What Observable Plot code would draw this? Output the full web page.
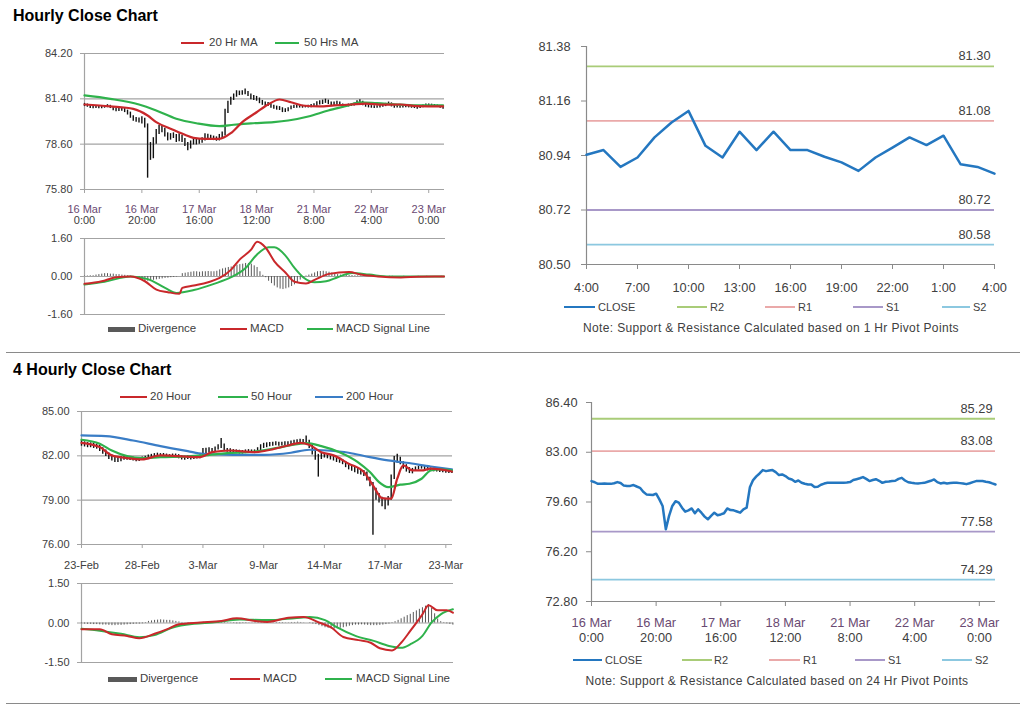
<!DOCTYPE html>
<html><head><meta charset="utf-8">
<script src="https://cdn.jsdelivr.net/npm/d3@7"></script>
<script src="https://cdn.jsdelivr.net/npm/@observablehq/plot@0.6"></script>
<style>
body{margin:0;background:#fff;font-family:"Liberation Sans",Arial,sans-serif;}
#root{position:relative;width:1024px;height:706px;overflow:hidden;background:#fff;}
</style></head><body><div id="root"></div>
<script>
// ---------------- DATA ----------------
// Hourly bars, 16 Mar 0:00 onwards (index = hour bar)
const hourClose = [81.03,80.95,80.84,80.84,80.86,80.84,80.84,80.88,80.96,80.90,80.72,80.69,80.70,80.76,80.66,80.57,80.30,80.12,80.10,80.08,
80.17,79.78,79.33,77.74,78.65,79.33,79.65,79.56,79.21,78.94,79.03,79.16,78.83,79.10,78.87,78.60,78.42,78.65,78.87,78.69,
78.75,78.83,79.16,79.05,79.03,78.95,78.87,79.10,79.21,80.60,81.10,81.35,81.55,81.78,81.71,81.75,81.78,81.64,81.44,81.48,
81.37,81.21,81.14,80.98,81.07,80.92,80.85,80.80,80.80,80.62,80.64,80.78,80.86,80.91,80.91,80.91,80.91,80.91,80.91,80.93,
80.96,81.10,81.16,81.22,81.30,81.18,81.03,81.10,81.16,81.05,80.91,80.98,81.00,81.03,81.05,81.18,81.25,81.07,80.95,80.91,
80.88,80.87,80.89,80.91,80.98,81.05,81.14,80.96,80.87,80.92,80.87,80.90,80.91,80.91,80.89,80.87,80.82,80.88,80.96,81.03,
81.03,81.03,80.98,80.95,80.87,80.80];
const hourHigh = [81.12,81.08,80.98,80.94,80.96,80.95,80.93,80.98,81.04,81.00,80.92,80.80,80.82,80.85,80.80,80.70,80.58,80.35,80.25,80.22,
80.30,80.20,79.85,78.70,79.00,79.50,79.75,79.70,79.58,79.30,79.25,79.30,79.20,79.25,79.15,78.95,78.70,78.80,78.95,78.92,
78.95,79.00,79.25,79.22,79.15,79.10,79.05,79.20,79.35,80.75,81.25,81.50,81.70,81.90,81.88,81.90,82.00,81.85,81.70,81.60,
81.55,81.45,81.30,81.20,81.18,81.10,81.00,80.95,80.92,80.85,80.78,80.85,80.95,81.00,81.00,80.98,81.00,80.99,81.00,81.05,
81.10,81.22,81.28,81.32,81.38,81.32,81.20,81.20,81.25,81.20,81.08,81.05,81.08,81.10,81.15,81.28,81.35,81.25,81.10,81.02,
80.98,80.97,80.98,81.00,81.06,81.12,81.20,81.15,81.00,81.00,80.96,80.97,80.98,80.99,80.96,80.95,80.92,80.95,81.02,81.08,
81.08,81.07,81.05,81.02,80.98,80.92];
const hourLow = [80.92,80.88,80.80,80.78,80.80,80.79,80.78,80.82,80.85,80.80,80.66,80.60,80.62,80.64,80.55,80.40,80.20,80.02,79.95,79.90,
79.85,79.60,76.50,77.60,77.70,78.60,79.20,79.30,79.05,78.80,78.85,78.95,78.70,78.75,78.70,78.45,78.20,78.30,78.55,78.55,
78.60,78.65,78.80,78.90,78.88,78.82,78.78,78.80,78.95,79.10,80.50,81.00,81.30,81.50,81.60,81.62,81.65,81.55,81.35,81.30,
81.25,81.10,81.00,80.90,80.92,80.82,80.75,80.70,80.68,80.55,80.55,80.60,80.72,80.80,80.82,80.83,80.82,80.84,80.83,80.85,
80.88,80.92,81.02,81.05,81.12,81.05,80.95,80.98,81.00,80.95,80.85,80.88,80.90,80.93,80.95,81.00,81.10,80.98,80.88,80.84,
80.82,80.80,80.82,80.84,80.88,80.92,81.00,80.90,80.82,80.84,80.82,80.83,80.85,80.84,80.82,80.80,80.76,80.80,80.85,80.92,
80.95,80.94,80.90,80.88,80.82,80.76];
const hourMa20X = [0,9,17,22,25,30,35,38,42,47,51,55,60,64,68,72,76,82,87,93,98,104,110,116,125];
const hourMa20Y = [81.05,80.93,80.78,80.37,79.96,79.55,79.18,78.99,78.93,78.93,79.28,79.96,80.57,81.05,81.36,81.19,80.99,80.93,80.99,81.05,81.11,81.04,81.05,80.95,80.93];
const hourMa50X = [0,9,19,25,32,39,47,52,58,66,71,78,85,92,96,102,110,117,125];
const hourMa50Y = [81.61,81.40,81.05,80.68,80.17,79.89,79.71,79.80,79.89,79.96,80.06,80.31,80.68,80.99,81.19,81.13,81.04,80.99,80.99];
const hourMacdX = [0,6,11,16,21,25,29,33,34,38,43,47,51,54,58,60,63,66,70,73,77,80,85,92,96,102,110,116,125];
const hourMacdY = [-0.31,-0.20,-0.03,0.00,-0.20,-0.55,-0.66,-0.73,-0.48,-0.38,-0.24,-0.06,0.29,0.72,1.14,1.46,1.21,0.64,0.15,-0.22,-0.29,-0.14,0.11,0.19,0.08,0.00,-0.04,-0.01,0.00];
const hourSignalX = [0,7,16,22,28,32,38,45,51,56,60,64,66,70,73,76,80,84,88,93,99,106,125];
const hourSignalY = [-0.34,-0.22,0.00,-0.11,-0.48,-0.69,-0.57,-0.31,-0.03,0.36,0.93,1.23,1.23,0.86,0.36,-0.03,-0.24,-0.20,-0.03,0.15,0.08,0.00,0.00];
const hourDivergence = [0.02,0.02,0.03,0.03,0.06,0.08,0.10,0.12,0.12,0.10,0.10,0.08,0.08,0.06,0.05,0.03,0.01,-0.04,-0.08,-0.12,
-0.16,-0.20,-0.20,-0.18,-0.16,-0.14,-0.12,-0.10,-0.08,-0.07,-0.05,-0.04,-0.02,0.00,0.12,0.14,0.16,0.18,0.20,0.20,
0.18,0.20,0.20,0.21,0.20,0.20,0.22,0.28,0.32,0.35,0.38,0.40,0.45,0.48,0.50,0.52,0.55,0.55,0.52,0.45,
0.38,0.20,0.05,-0.05,-0.20,-0.30,-0.40,-0.48,-0.53,-0.55,-0.52,-0.48,-0.42,-0.35,-0.28,-0.15,-0.05,0.02,0.06,0.10,
0.15,0.20,0.21,0.22,0.20,0.18,0.15,0.10,0.08,0.06,0.05,0.05,0.04,0.04,0.03,0.03,0.02,0.02,0.02,0.01,
0.01,0.01,0.00,-0.01,-0.01,0.00,0.01,0.01,0.00,-0.01,0.00,0.01,0.00,0.00,-0.01,0.00,0.01,0.00,0.00,0.01,
0.00,-0.01,0.00,0.00,0.01,0.00];
const hourTickPos = [0,20,40,60,80,100,120];
const hourTickDate = ["16 Mar","16 Mar","17 Mar","18 Mar","21 Mar","22 Mar","23 Mar"];
const hourTickTime = ["0:00","20:00","16:00","12:00","8:00","4:00","0:00"];

// Last 24 hours (4:00 -> 4:00)
const dayClose = [80.943,80.962,80.894,80.932,81.013,81.073,81.120,80.979,80.932,81.036,80.962,81.036,80.962,80.962,80.935,80.912,80.878,80.932,80.972,81.013,80.982,81.020,80.905,80.894,80.867];
const dayTickPos = [0,3,6,9,12,15,18,21,24];
const dayTickLabels = ["4:00","7:00","10:00","13:00","16:00","19:00","22:00","1:00","4:00"];
const pivotNames = ["R2","R1","S1","S2"];
const pivotColors = ["#a9cc78","#eaa9a9","#a898c8","#8cc8e0"];
const pivotHourly = [81.30,81.08,80.72,80.58];
const pivot24h = [85.29,83.08,77.58,74.29];

// 4-hourly bars, 23-Feb onwards
const h4Close = [82.88,82.80,82.70,82.72,82.66,82.66,82.50,82.25,82.10,81.91,81.85,81.76,81.70,81.80,81.85,81.85,81.80,81.78,81.72,81.74,
81.80,81.88,81.92,81.96,82.05,82.07,82.03,82.07,82.00,81.95,82.03,82.03,81.95,81.85,81.82,81.87,81.85,81.88,81.90,81.91,
82.36,82.30,82.40,82.36,82.45,82.55,82.75,82.45,82.38,82.36,82.30,82.28,82.25,82.25,82.28,82.30,82.29,82.29,82.40,82.60,
82.70,82.72,82.78,82.80,82.82,82.78,82.80,82.82,82.82,82.88,82.92,82.95,82.97,82.95,83.03,82.70,82.25,81.95,81.80,82.00,
82.03,81.95,81.88,81.80,81.72,81.69,81.55,81.40,81.25,81.13,81.05,80.95,80.90,80.86,80.50,80.11,79.70,79.32,79.10,78.87,
78.75,79.10,80.45,81.69,81.80,81.60,81.35,81.10,81.01,80.95,81.13,81.20,81.24,81.15,81.10,81.05,81.05,81.00,80.98,80.94,
80.92,80.90,80.90];
const h4High = [83.05,82.95,82.90,82.88,82.85,82.80,82.72,82.55,82.40,82.20,82.05,81.95,81.90,81.95,82.00,81.98,81.95,81.90,81.88,81.88,
81.92,81.98,82.05,82.10,82.15,82.18,82.15,82.16,82.12,82.08,82.12,82.12,82.08,82.00,81.98,82.00,81.98,82.00,82.02,82.05,
82.50,82.52,82.55,82.50,82.60,82.75,83.17,82.80,82.50,82.48,82.42,82.40,82.38,82.36,82.40,82.42,82.40,82.40,82.55,82.75,
82.85,82.88,82.90,82.92,82.95,82.92,82.92,82.95,82.96,83.00,83.05,83.08,83.12,83.10,83.35,83.05,82.75,82.40,82.10,82.20,
82.15,82.10,82.00,81.95,81.90,81.85,81.75,81.62,81.48,81.35,81.25,81.15,81.05,81.00,80.90,80.55,80.20,79.80,79.45,79.20,
79.05,79.25,80.70,81.95,82.10,81.90,81.60,81.40,81.20,81.15,81.25,81.30,81.35,81.30,81.22,81.18,81.15,81.12,81.10,81.05,
81.02,81.00,81.00];
const h4Low = [82.65,82.60,82.55,82.55,82.50,82.45,82.30,82.10,81.95,81.75,81.65,81.55,81.55,81.60,81.70,81.70,81.68,81.65,81.60,81.62,
81.68,81.72,81.80,81.85,81.90,81.95,81.92,81.95,81.90,81.85,81.92,81.90,81.80,81.72,81.70,81.75,81.72,81.76,81.78,81.80,
81.90,82.15,82.20,82.22,82.30,82.40,82.50,82.35,82.25,82.22,82.18,82.15,82.12,82.12,82.15,82.18,82.16,82.15,82.20,82.35,
82.50,82.55,82.62,82.65,82.68,82.65,82.66,82.70,82.70,82.74,82.78,82.80,82.82,82.80,82.85,82.50,82.05,81.70,80.56,81.75,
81.85,81.80,81.72,81.65,81.55,81.50,81.40,81.20,81.05,80.95,80.85,80.75,80.70,80.60,80.30,79.90,76.62,79.00,78.80,78.55,
78.35,78.60,79.00,80.40,81.50,81.40,81.10,80.90,80.80,80.78,80.95,81.05,81.10,81.00,80.98,80.95,80.92,80.90,80.88,80.85,
80.82,80.80,80.80];
const h4Ma20X = [0,6,10,15,20,26,32,39,43,49,57,61,68,72,75,79,83,88,93,96,99,102,104,106,109,112,115,122];
const h4Ma20Y = [82.88,82.59,82.03,81.85,81.76,82.03,81.98,81.91,82.25,82.36,82.25,82.36,82.70,82.88,82.75,82.25,82.03,81.47,80.90,80.00,79.14,79.10,80.45,81.35,81.01,81.01,81.13,80.94];
const h4Ma50X = [0,6,10,15,20,26,35,40,48,57,64,70,74,79,85,91,95,98,101,105,108,112,115,118,122];
const h4Ma50Y = [83.09,82.82,82.36,81.98,81.85,81.91,81.96,82.03,82.18,82.29,82.52,82.75,82.86,82.66,82.25,81.58,80.90,80.22,79.88,80.05,80.11,80.45,81.01,81.08,81.01];
const h4Ma200X = [0,8,17,26,35,40,50,60,69,75,81,88,95,101,107,115,122];
const h4Ma200Y = [83.38,83.33,83.04,82.66,82.32,82.14,82.07,82.07,82.21,82.41,82.36,82.21,81.91,81.69,81.53,81.28,81.08];
const h4MacdX = [0,6,10,15,19,24,28,32,39,46,51,57,61,68,73,78,82,86,91,95,98,102,105,108,112,114,117,120,122];
const h4MacdY = [-0.24,-0.24,-0.43,-0.49,-0.58,-0.41,-0.24,-0.05,0.02,0.08,0.18,0.08,0.04,0.20,0.23,0.02,-0.17,-0.53,-0.65,-0.75,-0.96,-1.04,-0.75,-0.30,0.33,0.67,0.48,0.48,0.39];
const h4SignalX = [0,6,13,19,24,30,37,43,52,61,70,75,80,84,90,96,101,105,108,112,115,118,122];
const h4SignalY = [-0.22,-0.29,-0.41,-0.54,-0.46,-0.17,-0.03,0.02,0.13,0.11,0.18,0.23,0.11,-0.17,-0.49,-0.68,-0.87,-0.94,-0.81,-0.49,0.02,0.33,0.52];
const h4Divergence = [-0.03,-0.04,-0.05,-0.05,-0.06,-0.06,-0.07,-0.08,-0.08,-0.09,-0.10,-0.10,-0.09,-0.09,-0.08,-0.07,-0.06,-0.05,-0.04,-0.04,-0.03,-0.02,
0.06,0.08,0.10,0.11,0.12,0.11,0.10,0.10,0.08,0.06,0.04,0.02,
0.01,-0.02,-0.03,-0.02,0.01,0.02,0.03,0.03,0.02,0.01,0.02,0.02,0.03,0.02,0.01,-0.01,-0.02,-0.03,-0.03,-0.02,
-0.02,-0.01,0.01,0.02,0.02,0.03,0.02,0.01,0.01,-0.01,-0.02,-0.02,-0.02,-0.01,0.01,0.02,0.02,0.03,0.02,0.01,0.00,-0.02,-0.04,-0.06,
-0.10,-0.14,-0.18,-0.20,-0.22,-0.23,-0.22,-0.20,-0.18,-0.15,-0.12,-0.10,
-0.08,-0.08,-0.07,-0.08,-0.09,-0.10,-0.10,-0.10,-0.09,-0.08,-0.06,-0.04,-0.02,
0.05,0.10,0.16,0.22,0.28,0.33,0.40,0.46,0.52,0.58,0.64,0.70,
0.55,0.35,0.15,0.05,0.02,-0.03,-0.05,-0.08];
const h4TickPos = [0,20,40,60,80,100,120];
const h4TickLabels = ["23-Feb","28-Feb","3-Mar","9-Mar","14-Mar","17-Mar","23-Mar"];

// ---------------- STYLE ----------------
const FONT = "'Liberation Sans', Arial, sans-serif";
const GRID = "#a3a3a3";
const RED = "#c9282b", GREEN = "#2fb24c", BLUE = "#3a7dc6", CLOSEBLUE = "#2477c0", DIVG = "#595959";
const root = document.getElementById("root");

function place(node, left, top) {
  node.style.position = "absolute"; node.style.left = left + "px"; node.style.top = top + "px";
  root.appendChild(node);
}
function txt(x, y, s, o = {}) {
  const d = document.createElement("div");
  d.textContent = s;
  Object.assign(d.style, {position:"absolute", left:x+"px", top:y+"px",
    transform: o.center ? "translate(-50%,-50%)" : "translateY(-50%)",
    fontSize:(o.size||11)+"px", color:o.color||"#404040", fontWeight:o.bold?"bold":"normal",
    whiteSpace:"nowrap", lineHeight:"1", fontFamily:FONT, letterSpacing:(o.ls||0)+"px"});
  root.appendChild(d);
}
function sw(x1, x2, y, color, h = 2) {
  const d = document.createElement("div");
  Object.assign(d.style, {position:"absolute", left:x1+"px", top:(y - h/2)+"px", width:(x2-x1)+"px", height:h+"px", background:color});
  root.appendChild(d);
}
function hline(y) { const d = document.createElement("div"); Object.assign(d.style,{position:"absolute",left:"6px",top:y+"px",width:"1014px",height:"1px",background:"#8a8a8a"}); root.appendChild(d); }
const pts = (xs, ys) => xs.map((x, i) => ({x, y: ys[i]}));
const idx = arr => arr.map((_, i) => i);
const style = size => ({fontFamily: FONT, fontSize: size + "px", color: "#404040", background: "transparent", overflow: "visible"});

// ---------------- TITLES ----------------
txt(13, 16, "Hourly Close Chart", {size:16, bold:true, color:"#000"});
txt(13, 370, "4 Hourly Close Chart", {size:16, bold:true, color:"#000"});
hline(352); hline(703);

// ---------------- HOURLY MAIN ----------------
{
  const yt = [75.8, 78.6, 81.4, 84.2];
  const p = Plot.plot({
    width: 470, height: 195, marginLeft: 84, marginRight: 26, marginTop: 13, marginBottom: 46,
    style: style(11),
    x: {domain: [0, 125.5]}, y: {domain: [75.8, 84.2]},
    marks: [
      Plot.ruleY(yt, {stroke: GRID, strokeWidth: 1.2}),
      Plot.ruleX([0], {stroke: GRID, strokeWidth: 1.2}),
      Plot.axisY(yt, {tickSize: 4, tickPadding: 8, stroke: GRID, tickFormat: d => d.toFixed(2), label: null, fill: "#404040"}),
      Plot.axisX(hourTickPos, {tickSize: 4, tickPadding: 12, stroke: GRID, tickFormat: (d, i) => hourTickDate[i], label: null, fill: "#6a4a72"}),
      Plot.axisX(hourTickPos, {tickSize: 0, tickPadding: 27, tickFormat: (d, i) => hourTickTime[i], label: null, fill: "#404040"}),
      Plot.ruleX(idx(hourClose), {x: d => d, y1: i => hourLow[i], y2: i => hourHigh[i], stroke: "#111", strokeWidth: 1.4}),
      Plot.line(pts(hourMa50X, hourMa50Y), {x: "x", y: "y", stroke: GREEN, strokeWidth: 2.2, curve: "monotone-x"}),
      Plot.line(pts(hourMa20X, hourMa20Y), {x: "x", y: "y", stroke: RED, strokeWidth: 2.2, curve: "monotone-x"})
    ]
  });
  place(p, 0, 40);
  sw(181, 204, 43, RED); txt(209, 43, "20 Hr MA", {size: 11.5});
  sw(275, 299, 43, GREEN); txt(304, 43, "50 Hrs MA", {size: 11.5});
}
// ---------------- HOURLY MACD ----------------
{
  const yt = [-1.6, 0, 1.6];
  const p = Plot.plot({
    width: 470, height: 95, marginLeft: 84, marginRight: 25, marginTop: 8, marginBottom: 11,
    style: style(11),
    x: {domain: [0, 125.5], axis: null}, y: {domain: [-1.6, 1.6]},
    marks: [
      Plot.ruleY(yt, {stroke: GRID, strokeWidth: 1.2}),
      Plot.ruleX([0], {stroke: GRID, strokeWidth: 1.2}),
      Plot.axisY(yt, {tickSize: 4, tickPadding: 8, stroke: GRID, tickFormat: d => d.toFixed(2), label: null, fill: "#404040"}),
      Plot.ruleX(idx(hourDivergence), {x: d => d, y1: 0, y2: i => hourDivergence[i], stroke: DIVG, strokeWidth: 1}),
      Plot.line(pts(hourSignalX, hourSignalY), {x: "x", y: "y", stroke: GREEN, strokeWidth: 2, curve: "monotone-x"}),
      Plot.line(pts(hourMacdX, hourMacdY), {x: "x", y: "y", stroke: RED, strokeWidth: 2, curve: "monotone-x"})
    ]
  });
  place(p, 0, 230);
  sw(108, 135, 329, DIVG, 5); txt(138, 329, "Divergence", {size: 11.5});
  sw(220, 247, 329, RED); txt(250, 329, "MACD", {size: 11.5});
  sw(307, 333, 329, GREEN); txt(336, 329, "MACD  Signal Line", {size: 11.5});
}
// ---------------- LAST 24H ----------------
{
  const yt = [80.50, 80.72, 80.94, 81.16, 81.38];
  const piv = pivotNames.map((n, i) => ({n, v: pivotHourly[i], c: pivotColors[i]}));
  const p = Plot.plot({
    width: 524, height: 275, marginLeft: 86, marginRight: 30, marginTop: 16, marginBottom: 41,
    style: style(12.8),
    x: {domain: [0, 24]}, y: {domain: [80.50, 81.38]},
    marks: [
      Plot.ruleY(piv, {y: "v", stroke: "c", strokeWidth: 1.8}),
      Plot.text(piv, {x: 24, y: "v", text: d => d.v.toFixed(2), textAnchor: "end", dx: -4, dy: -10, fill: "#404040", fontSize: 12.8}),
      Plot.ruleX([0], {stroke: "#8a8a8a", strokeWidth: 1.2}),
      Plot.ruleY([80.50], {stroke: "#8a8a8a", strokeWidth: 1.2}),
      Plot.axisY(yt, {tickSize: 5, tickPadding: 11, stroke: "#8a8a8a", tickFormat: d => d.toFixed(2), label: null, fill: "#404040"}),
      Plot.axisX(dayTickPos, {tickSize: 5, tickPadding: 13, stroke: "#8a8a8a", tickFormat: (d, i) => dayTickLabels[i], label: null, fill: "#404040"}),
      Plot.line(dayClose, {x: (d, i) => i, y: d => d, stroke: CLOSEBLUE, strokeWidth: 2.5})
    ]
  });
  place(p, 500, 30);
  const ly = 307;
  sw(564, 595, ly, CLOSEBLUE); txt(598, ly, "CLOSE");
  sw(677, 707, ly, pivotColors[0]); txt(710, ly, "R2");
  sw(765, 795, ly, pivotColors[1]); txt(798, ly, "R1");
  sw(853, 883, ly, pivotColors[2]); txt(886, ly, "S1");
  sw(942, 970, ly, pivotColors[3]); txt(973, ly, "S2");
  txt(771, 328, "Note: Support & Resistance Calculated based on 1 Hr Pivot Points", {center: true, size: 12, ls: 0.35});
}
// ---------------- 4H MAIN ----------------
{
  const yt = [76, 79, 82, 85];
  const p = Plot.plot({
    width: 470, height: 190, marginLeft: 81, marginRight: 18, marginTop: 21, marginBottom: 36,
    style: style(11),
    x: {domain: [0, 122.2]}, y: {domain: [76, 85]},
    marks: [
      Plot.ruleY(yt, {stroke: GRID, strokeWidth: 1.2}),
      Plot.ruleX([0], {stroke: GRID, strokeWidth: 1.2}),
      Plot.axisY(yt, {tickSize: 4, tickPadding: 8, stroke: GRID, tickFormat: d => d.toFixed(2), label: null, fill: "#404040"}),
      Plot.axisX(h4TickPos, {tickSize: 4, tickPadding: 13, stroke: GRID, tickFormat: (d, i) => h4TickLabels[i], label: null, fill: "#404040"}),
      Plot.ruleX(idx(h4Close), {x: d => d, y1: i => h4Low[i], y2: i => h4High[i], stroke: "#111", strokeWidth: 1.4}),
      Plot.line(pts(h4Ma200X, h4Ma200Y), {x: "x", y: "y", stroke: BLUE, strokeWidth: 2.2, curve: "monotone-x"}),
      Plot.line(pts(h4Ma50X, h4Ma50Y), {x: "x", y: "y", stroke: GREEN, strokeWidth: 2.2, curve: "monotone-x"}),
      Plot.line(pts(h4Ma20X, h4Ma20Y), {x: "x", y: "y", stroke: RED, strokeWidth: 2.2, curve: "monotone-x"})
    ]
  });
  place(p, 0, 390);
  sw(120, 147, 397, RED); txt(150, 397, "20 Hour", {size: 11.5});
  sw(218, 248, 397, GREEN); txt(251, 397, "50 Hour", {size: 11.5});
  sw(315, 343, 397, BLUE); txt(346, 397, "200 Hour", {size: 11.5});
}
// ---------------- 4H MACD ----------------
{
  const yt = [-1.5, 0, 1.5];
  const p = Plot.plot({
    width: 470, height: 95, marginLeft: 81, marginRight: 17, marginTop: 8, marginBottom: 8,
    style: style(11),
    x: {domain: [0, 122.2], axis: null}, y: {domain: [-1.5, 1.5]},
    marks: [
      Plot.ruleY(yt, {stroke: GRID, strokeWidth: 1.2}),
      Plot.ruleX([0], {stroke: GRID, strokeWidth: 1.2}),
      Plot.axisY(yt, {tickSize: 4, tickPadding: 8, stroke: GRID, tickFormat: d => d.toFixed(2), label: null, fill: "#404040"}),
      Plot.ruleX(idx(h4Divergence), {x: d => d, y1: 0, y2: i => h4Divergence[i], stroke: DIVG, strokeWidth: 1}),
      Plot.line(pts(h4SignalX, h4SignalY), {x: "x", y: "y", stroke: GREEN, strokeWidth: 2, curve: "monotone-x"}),
      Plot.line(pts(h4MacdX, h4MacdY), {x: "x", y: "y", stroke: RED, strokeWidth: 2, curve: "monotone-x"})
    ]
  });
  place(p, 0, 575);
  sw(108, 137, 679, DIVG, 5); txt(140, 679, "Divergence", {size: 11.5});
  sw(230, 260, 679, RED); txt(263, 679, "MACD", {size: 11.5});
  sw(325, 352, 679, GREEN); txt(356, 679, "MACD  Signal Line", {size: 11.5});
}
// ---------------- HOURLY CLOSE WITH 24H PIVOTS ----------------
{
  const yt = [72.8, 76.2, 79.6, 83.0, 86.4];
  const piv = pivotNames.map((n, i) => ({n, v: pivot24h[i], c: pivotColors[i]}));
  const p = Plot.plot({
    width: 524, height: 260, marginLeft: 91, marginRight: 29, marginTop: 12, marginBottom: 49,
    style: style(12.8),
    x: {domain: [0, 125]}, y: {domain: [72.8, 86.4]},
    marks: [
      Plot.ruleY(piv, {y: "v", stroke: "c", strokeWidth: 1.8}),
      Plot.text(piv, {x: 125, y: "v", text: d => d.v.toFixed(2), textAnchor: "end", dx: -3, dy: -10, fill: "#404040", fontSize: 12.8}),
      Plot.ruleX([0], {stroke: "#8a8a8a", strokeWidth: 1.2}),
      Plot.ruleY([72.8], {stroke: "#8a8a8a", strokeWidth: 1.2}),
      Plot.axisY(yt, {tickSize: 5, tickPadding: 9, stroke: "#8a8a8a", tickFormat: d => d.toFixed(2), label: null, fill: "#404040"}),
      Plot.axisX(hourTickPos, {tickSize: 5, tickPadding: 11, stroke: "#8a8a8a", tickFormat: (d, i) => hourTickDate[i], label: null, fill: "#6a4a72"}),
      Plot.axisX(hourTickPos, {tickSize: 0, tickPadding: 31, tickFormat: (d, i) => hourTickTime[i], label: null, fill: "#404040"}),
      Plot.line(hourClose, {x: (d, i) => i, y: d => d, stroke: CLOSEBLUE, strokeWidth: 2.5})
    ]
  });
  place(p, 500, 390);
  const ly = 660;
  sw(573, 602, ly, CLOSEBLUE); txt(605, ly, "CLOSE");
  sw(682, 712, ly, pivotColors[0]); txt(714, ly, "R2");
  sw(769, 800, ly, pivotColors[1]); txt(803, ly, "R1");
  sw(855, 885, ly, pivotColors[2]); txt(888, ly, "S1");
  sw(942, 972, ly, pivotColors[3]); txt(975, ly, "S2");
  txt(777, 681, "Note: Support & Resistance Calculated based on 24 Hr Pivot Points", {center: true, size: 12, ls: 0.35});
}
</script></body></html>
